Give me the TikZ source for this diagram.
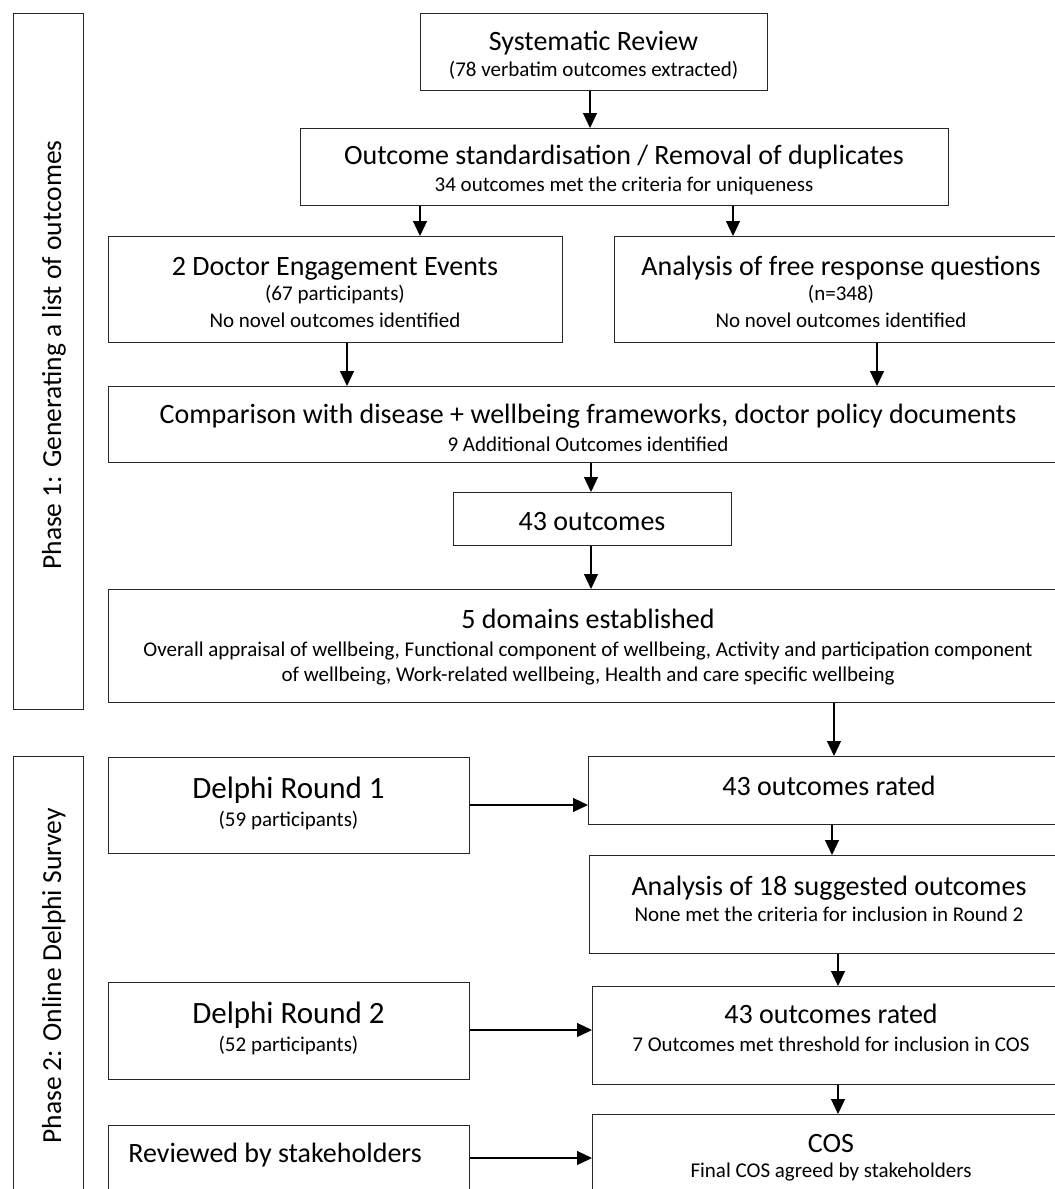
\documentclass[tikz,border=0pt]{standalone}
\usepackage{fontspec}
\setmainfont{Carlito}
\usetikzlibrary{arrows.meta}
\begin{document}
\begin{tikzpicture}[x=1pt,y=-1pt,
  box/.style={draw=black!85, line width=1.2pt, rectangle, inner sep=0pt, anchor=north west},
  big/.style={font=\fontsize{28}{33}\selectfont, inner sep=0pt, anchor=base},
  dbig/.style={font=\fontsize{31}{36}\selectfont, inner sep=0pt, anchor=base},
  small/.style={font=\fontsize{21}{25}\selectfont, inner sep=0pt, anchor=base},
  phase/.style={font=\fontsize{27.5}{32}\selectfont, inner sep=0pt, anchor=base, rotate=90},
  arr/.style={-{Triangle[length=15pt,width=14pt]}, line width=1.2pt, draw=black}]
\useasboundingbox (0,0) rectangle (1055,1189);
\clip (0,0) rectangle (1055,1189);

% phase boxes
\node[box, minimum width=70pt, minimum height=696pt] (ph1) at (13,13) {};
\node[box, minimum width=70pt, minimum height=444pt] (ph2) at (13,756) {};
\node[phase] (ph1t) at (61,355) {Phase 1: Generating a list of outcomes};
\node[phase] (ph2t) at (61,976) {Phase 2: Online Delphi Survey};

% phase 1 boxes
\node[box, minimum width=347pt, minimum height=77pt] (sr) at (420,13) {};
\node[big] (srt) at (593.5,50) {Systematic Review};
\node[small] (srs) at (593.5,76) {(78 verbatim outcomes extracted)};

\node[box, minimum width=648pt, minimum height=77pt] (std) at (300,128) {};
\node[big] (stdt) at (624,164) {Outcome standardisation / Removal of duplicates};
\node[small] (stds) at (624,191) {34 outcomes met the criteria for uniqueness};

\node[box, minimum width=454pt, minimum height=106pt] (doc) at (108,236) {};
\node[big] (doct) at (335,275) {2 Doctor Engagement Events};
\node[small] (docs) at (335,300) {(67 participants)};
\node[small] (docn) at (335,327) {No novel outcomes identified};

\node[box, minimum width=454pt, minimum height=106pt] (fr) at (614,236) {};
\node[big] (frt) at (841,275) {Analysis of free response questions};
\node[small] (frs) at (841,300) {(n=348)};
\node[small] (frn) at (841,327) {No novel outcomes identified};

\node[box, minimum width=960pt, minimum height=76pt] (cmp) at (108,386) {};
\node[big] (cmpt) at (588,423) {Comparison with disease + wellbeing frameworks, doctor policy documents};
\node[small] (cmps) at (588,451) {9 Additional Outcomes identified};

\node[box, minimum width=278pt, minimum height=53pt] (o43) at (453,492) {};
\node[big] (o43t) at (592,530) {43 outcomes};

\node[box, minimum width=960pt, minimum height=113pt] (dom) at (108,589) {};
\node[big] (domt) at (588,628) {5 domains established};
\node[small] (doms1) at (588,656) {Overall appraisal of wellbeing, Functional component of wellbeing, Activity and participation component};
\node[small] (doms2) at (588,681) {of wellbeing, Work-related wellbeing, Health and care specific wellbeing};

% phase 2 boxes
\node[box, minimum width=361pt, minimum height=96pt] (d1) at (108,757) {};
\node[dbig] (d1t) at (288.5,798) {Delphi Round 1};
\node[small] (d1s) at (288.5,826) {(59 participants)};

\node[box, minimum width=361pt, minimum height=97pt] (d2) at (108,982) {};
\node[dbig] (d2t) at (288.5,1023) {Delphi Round 2};
\node[small] (d2s) at (288.5,1051) {(52 participants)};

\node[box, minimum width=361pt, minimum height=80pt] (rev) at (108,1125) {};
\node[big] (revt) at (275,1162) {Reviewed by stakeholders};

\node[box, minimum width=482pt, minimum height=68pt] (r1) at (588,756) {};
\node[big] (r1t) at (829,795) {43 outcomes rated};

\node[box, minimum width=481pt, minimum height=98pt] (an) at (589,855) {};
\node[big] (ant) at (829,895) {Analysis of 18 suggested outcomes};
\node[small] (ans) at (829,921) {None met the criteria for inclusion in Round 2};

\node[box, minimum width=478pt, minimum height=98pt] (r2) at (592,986) {};
\node[big] (r2t) at (831,1023) {43 outcomes rated};
\node[small] (r2s) at (831,1051) {7 Outcomes met threshold for inclusion in COS};

\node[box, minimum width=478pt, minimum height=90pt] (cos) at (592,1114) {};
\node[big] (cost) at (831,1152) {COS};
\node[small] (coss) at (831,1177) {Final COS agreed by stakeholders};

% connectors
\draw[arr] (sr.south -| 590,0) -- (std.north -| 590,0);
\draw[arr] (std.south -| 420,0) -- (doc.north -| 420,0);
\draw[arr] (std.south -| 733,0) -- (fr.north -| 733,0);
\draw[arr] (doc.south -| 347,0) -- (cmp.north -| 347,0);
\draw[arr] (fr.south -| 877,0) -- (cmp.north -| 877,0);
\draw[arr] (cmp.south -| 591,0) -- (o43.north -| 591,0);
\draw[arr] (o43.south -| 591,0) -- (dom.north -| 591,0);
\draw[arr] (dom.south -| 834,0) -- (r1.north -| 834,0);
\draw[arr] (d1.east |- 0,805) -- (r1.west |- 0,805);
\draw[arr] (r1.south -| 832,0) -- (an.north -| 832,0);
\draw[arr] (an.south -| 838,0) -- (r2.north -| 838,0);
\draw[arr] (d2.east |- 0,1030) -- (r2.west |- 0,1030);
\draw[arr] (r2.south -| 838,0) -- (cos.north -| 838,0);
\draw[arr] (rev.east |- 0,1158) -- (cos.west |- 0,1158);
\end{tikzpicture}
\end{document}
